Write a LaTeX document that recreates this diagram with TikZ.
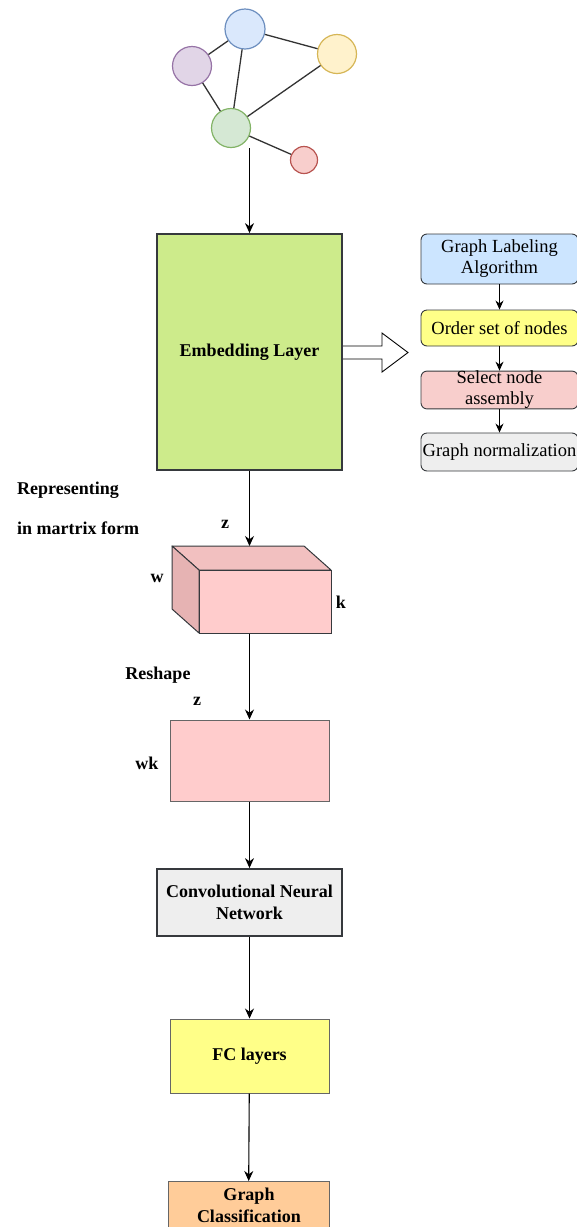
\documentclass[tikz,border=0pt]{standalone}
\usepackage{fontspec}
\setmainfont{Liberation Serif}
\usetikzlibrary{arrows.meta,positioning}
\definecolor{edgegray}{HTML}{36393D}
\definecolor{boxgray}{HTML}{666666}
\definecolor{cBlueF}{HTML}{DAE8FC}\definecolor{cBlueD}{HTML}{6C8EBF}
\definecolor{cPurpF}{HTML}{E1D5E7}\definecolor{cPurpD}{HTML}{9673A6}
\definecolor{cYellF}{HTML}{FFF2CC}\definecolor{cYellD}{HTML}{D6B656}
\definecolor{cGreenF}{HTML}{D5E8D4}\definecolor{cGreenD}{HTML}{82B366}
\definecolor{cRedF}{HTML}{F8CECC}\definecolor{cRedD}{HTML}{B85450}
\definecolor{embedF}{HTML}{CDEB8B}
\definecolor{labelF}{HTML}{CCE5FF}
\definecolor{lightY}{HTML}{FFFF88}
\definecolor{pinkF}{HTML}{FFCCCC}
\definecolor{pinkTop}{HTML}{F2C0C0}
\definecolor{pinkSide}{HTML}{E6B3B3}
\definecolor{greyF}{HTML}{EEEEEE}
\definecolor{orangeF}{HTML}{FFCC99}
\tikzset{
  gnode/.style={circle,line width=1.2pt,inner sep=0pt},
  gedge/.style={line width=1.3pt,draw=black!80},
  flow/.style={line width=1.1pt,-{Stealth[length=10pt,width=9pt]}},
  sideflow/.style={line width=1.1pt,-{Stealth[length=9pt,width=8pt]}},
  mainbox/.style={rectangle,draw=edgegray,line width=1.2pt,font=\bfseries\fontsize{18}{22}\selectfont,align=center,inner sep=0pt},
  sidebox/.style={rectangle,rounded corners=6pt,draw=edgegray,line width=0.9pt,font=\fontsize{18.5}{21}\selectfont,align=center,inner sep=0pt,minimum width=157pt},
  lbl/.style={font=\bfseries\fontsize{18}{22}\selectfont,inner sep=0pt},
}
\begin{document}
\begin{tikzpicture}[x=1pt,y=-1pt]
\useasboundingbox[fill=white] (0,0) rectangle (576,1227);

% input graph
\node[gnode,draw=cBlueD,fill=cBlueF,minimum size=40pt] (gb) at (245,29) {};
\node[gnode,draw=cPurpD,fill=cPurpF,minimum size=39pt] (gp) at (192,66) {};
\node[gnode,draw=cYellD,fill=cYellF,minimum size=39pt] (gy) at (337,54) {};
\node[gnode,draw=cGreenD,fill=cGreenF,minimum size=39pt] (gg) at (231,128) {};
\node[gnode,draw=cRedD,fill=cRedF,minimum size=27pt] (gr) at (304,160) {};
\draw[gedge] (gp) -- (gb);
\draw[gedge] (gb) -- (gy);
\draw[gedge] (gb) -- (gg);
\draw[gedge] (gp) -- (gg);
\draw[gedge] (gy) -- (gg);
\draw[gedge] (gg) -- (gr);

% main pipeline
\node[mainbox,fill=embedF,line width=1.8pt,minimum width=185pt,minimum height=236pt] (emb) at (249.5,352) {Embedding Layer};
\coordinate (gout) at (249.5,148);
\draw[flow] (gout) -- (emb.north -| gout);

% hollow arrow towards the labeling steps
\draw[line width=0.9pt,fill=white] (343,346) -- (382,346) -- (382,333) -- (408,352.5) -- (382,372) -- (382,359) -- (343,359);

% labeling steps
\node[sidebox,fill=labelF,minimum height=50pt] (s1) at (499.5,259) {Graph Labeling\\Algorithm};
\node[sidebox,fill=lightY,minimum height=36pt] (s2) at (499.5,328) {Order set of nodes};
\node[sidebox,fill=cRedF,minimum height=36pt] (s3) at (499.5,390) {Select node\\assembly};
\node[sidebox,fill=greyF,minimum height=38pt] (s4) at (499.5,452) {Graph normalization};
\draw[sideflow] (s1) -- (s2);
\draw[sideflow] (s2) -- (s3);
\draw[sideflow] (s3) -- (s4);

% matrix cube
\coordinate (cA) at (172,546);
\coordinate (cB) at (304,546);
\coordinate (cC) at (331,570);
\coordinate (cD) at (199,570);
\coordinate (cE) at (199,633);
\coordinate (cF) at (172,609);
\draw[draw=edgegray,line width=1pt,fill=pinkTop,line join=round] (cA) -- (cB) -- (cC) -- (cD) -- cycle;
\draw[draw=edgegray,line width=1pt,fill=pinkSide,line join=round] (cA) -- (cD) -- (cE) -- (cF) -- cycle;
\node[rectangle,draw=edgegray,line width=1pt,fill=pinkF,minimum width=132pt,minimum height=63pt,inner sep=0pt] (cube) at (265,601.5) {};
\coordinate (cubetop) at (249.5,546);
\draw[flow] (emb.south -| cubetop) -- (cubetop);

\node[lbl,anchor=west] (t1) at (17,490) {Representing};
\node[lbl,anchor=west] (t2) at (17,528) {in martrix form};
\node[lbl] (tz1) at (225,524) {z};
\node[lbl] (tw) at (157,578) {w};
\node[lbl] (tk) at (341,602) {k};

% reshaped matrix
\node[rectangle,draw=boxgray,line width=1pt,fill=pinkF,minimum width=159pt,minimum height=81pt,inner sep=0pt] (mat) at (249.5,760.5) {};
\draw[flow] (cube.south -| mat.north) -- (mat.north);
\node[lbl] (tr) at (158,675) {Reshape};
\node[lbl] (tz2) at (197,701) {z};
\node[lbl] (twk) at (147,763) {wk};

% network stages
\node[mainbox,fill=greyF,line width=1.8pt,minimum width=185pt,minimum height=67pt] (cnn) at (249.5,902.5) {Convolutional Neural\\Network};
\node[mainbox,fill=lightY,draw=boxgray,line width=1pt,minimum width=159pt,minimum height=74pt] (fc) at (249.5,1056) {FC layers};
\node[mainbox,fill=orangeF,draw=boxgray,line width=1pt,minimum width=161pt,minimum height=60pt,anchor=north] (cls) at (248.5,1181) {};
\node[lbl,align=center] (clst) at (249,1205) {Graph\\Classification};
\draw[flow] (mat) -- (cnn);
\draw[flow] (cnn) -- (fc);
\draw[flow] (fc) -- (cls);
\end{tikzpicture}
\end{document}
